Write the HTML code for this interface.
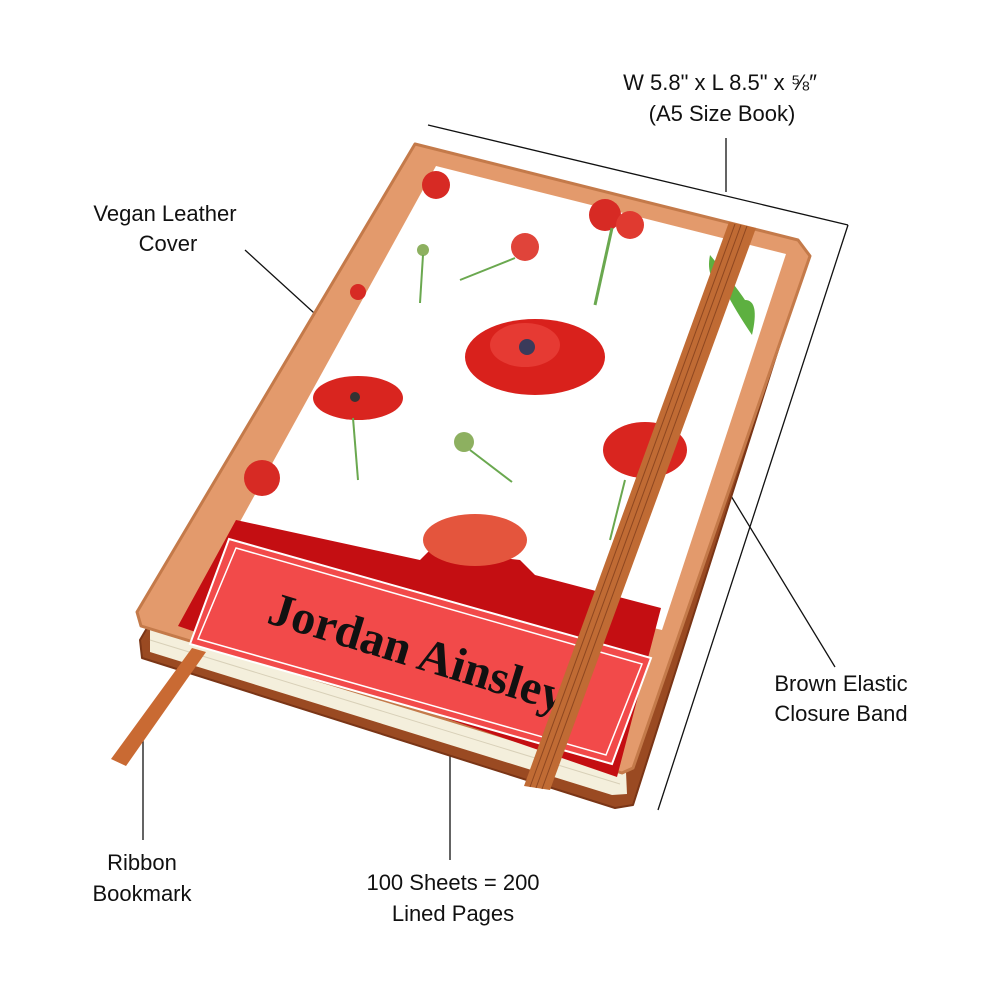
<!DOCTYPE html>
<html><head><meta charset="utf-8"><style>
html,body{margin:0;padding:0;background:#fff;}
svg{display:block}
.lbl{font-family:"Liberation Sans",sans-serif;fill:#111;}
</style></head><body>
<svg width="1000" height="1000" viewBox="0 0 1000 1000" xmlns="http://www.w3.org/2000/svg">
<g font-size="22" text-anchor="middle" class="lbl">
<text class="lbl" x="720" y="90">W 5.8" x L 8.5" x ⅝″</text>
<text class="lbl" x="722" y="121">(A5 Size Book)</text>
<text class="lbl" x="165" y="221">Vegan Leather</text>
<text class="lbl" x="168" y="251">Cover</text>
<text class="lbl" x="841" y="691">Brown Elastic</text>
<text class="lbl" x="841" y="721">Closure Band</text>
<text class="lbl" x="142" y="870">Ribbon</text>
<text class="lbl" x="142" y="901">Bookmark</text>
<text class="lbl" x="453" y="890">100 Sheets = 200</text>
<text class="lbl" x="453" y="921">Lined Pages</text>
</g>
<g stroke="#111" stroke-width="1.3" fill="none">
<line x1="428" y1="125" x2="848" y2="225"/>
<line x1="726" y1="138" x2="726" y2="192"/>
<line x1="848" y1="225" x2="658" y2="810"/>
<line x1="245" y1="250" x2="347" y2="343"/>
<line x1="680" y1="412" x2="835" y2="667"/>
<line x1="143" y1="730" x2="143" y2="840"/>
<line x1="450" y1="728" x2="450" y2="860"/>
</g>
<polygon points="418,165 806,262 633,805 615,808 142,658 140,640" fill="#9a4a22" stroke="#7a3516" stroke-width="2" stroke-linejoin="round"/>
<polygon points="150,628 626,772 627,794 612,795 150,652" fill="#f4efdc"/>
<line x1="150" y1="640" x2="620" y2="784" stroke="#d8d0b8" stroke-width="1"/>
<polygon points="192,648 206,652 126,766 111,759" fill="#c96a33"/>
<polygon points="415,144 798,240 810,256 633,768 622,773 141,626 137,612" fill="#e39a6c" stroke="#c47a4a" stroke-width="3" stroke-linejoin="round"/>
<polygon points="436,166 786,254 662,630 236,529" fill="#ffffff"/>
<g>
<circle cx="436" cy="185" r="14" fill="#d72a24"/>
<circle cx="605" cy="215" r="16" fill="#d72a24"/><circle cx="630" cy="225" r="14" fill="#e03a30"/>
<line x1="612" y1="228" x2="595" y2="305" stroke="#6aa84f" stroke-width="3"/>
<circle cx="525" cy="247" r="14" fill="#e0443a"/>
<line x1="515" y1="258" x2="460" y2="280" stroke="#6aa84f" stroke-width="2"/>
<circle cx="423" cy="250" r="6" fill="#8db060"/><line x1="423" y1="255" x2="420" y2="303" stroke="#6aa84f" stroke-width="2"/>
<ellipse cx="535" cy="357" rx="70" ry="38" fill="#d9211c"/>
<ellipse cx="525" cy="345" rx="35" ry="22" fill="#e63a33"/>
<circle cx="527" cy="347" r="8" fill="#3a3a5a"/>
<ellipse cx="358" cy="398" rx="45" ry="22" fill="#d9251f"/>
<circle cx="355" cy="397" r="5" fill="#333"/>
<line x1="353" y1="418" x2="358" y2="480" stroke="#6aa84f" stroke-width="2"/>
<circle cx="464" cy="442" r="10" fill="#8db060"/><line x1="470" y1="450" x2="512" y2="482" stroke="#6aa84f" stroke-width="2"/>
<ellipse cx="645" cy="450" rx="42" ry="28" fill="#d9251f"/>
<path d="M710 255 Q735 285 745 300 Q760 300 752 335 Q735 310 725 290 Q705 280 710 255Z" fill="#5db040"/>
<circle cx="358" cy="292" r="8" fill="#d72a24"/>
<circle cx="262" cy="478" r="18" fill="#d72a24"/>
<line x1="625" y1="480" x2="610" y2="540" stroke="#6aa84f" stroke-width="2"/>
</g>
<polygon points="236,520 420,560 430,550 520,560 535,575 661,608 617,777 178,626" fill="#c40e12"/>
<ellipse cx="475" cy="540" rx="52" ry="26" fill="#e4553d"/>
<polygon points="229,539 651,658 612,764 190,644" fill="#f24a4a" stroke="#fff" stroke-width="2"/>
<polygon points="236,548 642,664 606,755 198,639" fill="none" stroke="#fff" stroke-width="1.5"/>
<text x="417" y="668" font-size="48" text-anchor="middle" transform="rotate(17 417 654)" style="font-family:'Liberation Serif',serif;font-weight:bold;fill:#111">Jordan Ainsley</text>
<polygon points="729,222 756,228 550,790 524,786" fill="#c06b34"/>
<g stroke="#8e4720" stroke-width="1">
<line x1="735" y1="224" x2="530" y2="787"/>
<line x1="741" y1="225" x2="536" y2="788"/>
<line x1="747" y1="226" x2="542" y2="789"/>
</g>
</svg>
</body></html>
